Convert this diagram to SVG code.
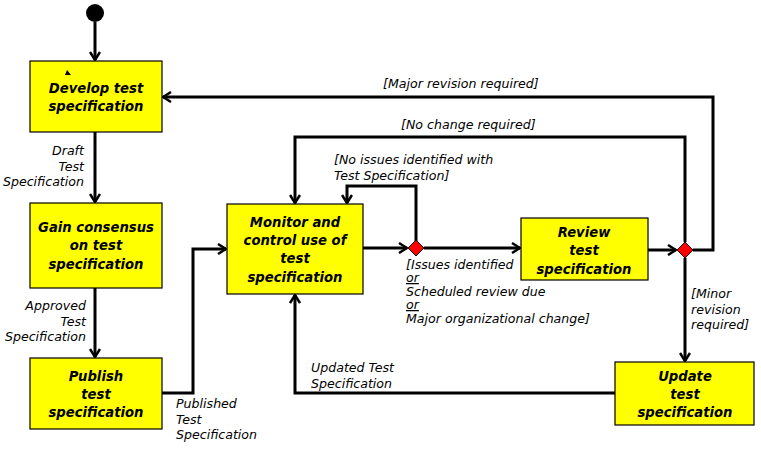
<svg xmlns="http://www.w3.org/2000/svg" width="761" height="455" viewBox="0 0 761 455">
<style>
.box{fill:#ffff00;stroke:#000;stroke-width:1.2}
.nt{font-family:"DejaVu Sans","Open Sans",sans-serif;font-size:13.2px;font-weight:bold;font-style:italic;fill:#000;text-anchor:middle}
.lb{font-family:"DejaVu Sans","Open Sans",sans-serif;font-size:12.6px;font-style:italic;fill:#000}
.r{text-anchor:end}
.ln{fill:none;stroke:#000;stroke-width:3;stroke-linejoin:miter}
.dia{fill:#ff0000;stroke:#000;stroke-width:1}
</style>
<defs>
<marker id="ah" viewBox="0 0 10 12" refX="9" refY="6" markerWidth="10" markerHeight="12" markerUnits="userSpaceOnUse" orient="auto">
<path d="M1,1 L9,6 L1,11" fill="none" stroke="#000" stroke-width="2.5"/>
</marker>
</defs>
<rect width="761" height="455" fill="#fff"/>
<g id="connectors">
<path class="ln" d="M95,22 V60" marker-end="url(#ah)"/>
<path class="ln" d="M95,132 V202" marker-end="url(#ah)"/>
<path class="ln" d="M95,288 V357" marker-end="url(#ah)"/>
<path class="ln" d="M162,393 H193 V249 H226" marker-end="url(#ah)"/>
<path class="ln" d="M363,248 H407" marker-end="url(#ah)"/>
<path class="ln" d="M416,241 V186 H347 V203" marker-end="url(#ah)"/>
<path class="ln" d="M424,248 H520" marker-end="url(#ah)"/>
<path class="ln" d="M648,250 H676" marker-end="url(#ah)"/>
<path class="ln" d="M693,250 H713 V97 H163" marker-end="url(#ah)"/>
<path class="ln" d="M685,242 V137 H295 V203" marker-end="url(#ah)"/>
<path class="ln" d="M685,258 V361" marker-end="url(#ah)"/>
<path class="ln" d="M615,393 H295 V295" marker-end="url(#ah)"/>
<text class="lb r" x="84" y="155">Draft</text>
<text class="lb r" x="84" y="171">Test</text>
<text class="lb r" x="84" y="186">Specification</text>
<text class="lb r" x="86" y="310">Approved</text>
<text class="lb r" x="86" y="326">Test</text>
<text class="lb r" x="86" y="341">Specification</text>
<text class="lb" x="176" y="408">Published</text>
<text class="lb" x="176" y="424">Test</text>
<text class="lb" x="176" y="439">Specification</text>
<text class="lb" x="334" y="164">[No issues identified with</text>
<text class="lb" x="334" y="180">Test Specification]</text>
<text class="lb" x="406" y="269">[Issues identified</text>
<text class="lb" x="406" y="282" text-decoration="underline">or</text>
<text class="lb" x="406" y="296">Scheduled review due</text>
<text class="lb" x="406" y="309" text-decoration="underline">or</text>
<text class="lb" x="406" y="323">Major organizational change]</text>
<text class="lb" x="383" y="88">[Major revision required]</text>
<text class="lb" x="401" y="129">[No change required]</text>
<text class="lb" x="691" y="298">[Minor</text>
<text class="lb" x="691" y="314">revision</text>
<text class="lb" x="691" y="329">required]</text>
<text class="lb" x="311" y="372">Updated Test</text>
<text class="lb" x="311" y="388">Specification</text>
</g>
<g id="start"><circle cx="95" cy="13" r="9" fill="#000"/></g>
<g id="develop">
<rect class="box" x="30" y="61" width="132" height="71"/>
<polygon points="67,70 71,75 65,75" fill="#000"/>
<text class="nt" x="96" y="93">Develop test</text>
<text class="nt" x="96" y="111">specification</text>
</g>
<g id="gain">
<rect class="box" x="30" y="203" width="132" height="85"/>
<text class="nt" x="96" y="232">Gain consensus</text>
<text class="nt" x="96" y="250">on test</text>
<text class="nt" x="96" y="269">specification</text>
</g>
<g id="publish">
<rect class="box" x="30" y="358" width="132" height="71"/>
<text class="nt" x="96" y="381">Publish</text>
<text class="nt" x="96" y="399">test</text>
<text class="nt" x="96" y="417">specification</text>
</g>
<g id="monitor">
<rect class="box" x="227" y="204" width="136" height="90"/>
<text class="nt" x="295" y="227">Monitor and</text>
<text class="nt" x="295" y="245">control use of</text>
<text class="nt" x="295" y="263">test</text>
<text class="nt" x="295" y="282">specification</text>
</g>
<g id="decision1"><polygon class="dia" points="416,240 424,248 416,256 408,248"/></g>
<g id="review">
<rect class="box" x="521" y="218" width="127" height="62"/>
<text class="nt" x="584" y="237">Review</text>
<text class="nt" x="584" y="255">test</text>
<text class="nt" x="584" y="274">specification</text>
</g>
<g id="decision2"><polygon class="dia" points="685,242 693,250 685,258 677,250"/></g>
<g id="update">
<rect class="box" x="615" y="362" width="139" height="63"/>
<text class="nt" x="685" y="381">Update</text>
<text class="nt" x="685" y="399">test</text>
<text class="nt" x="685" y="417">specification</text>
</g>
</svg>
